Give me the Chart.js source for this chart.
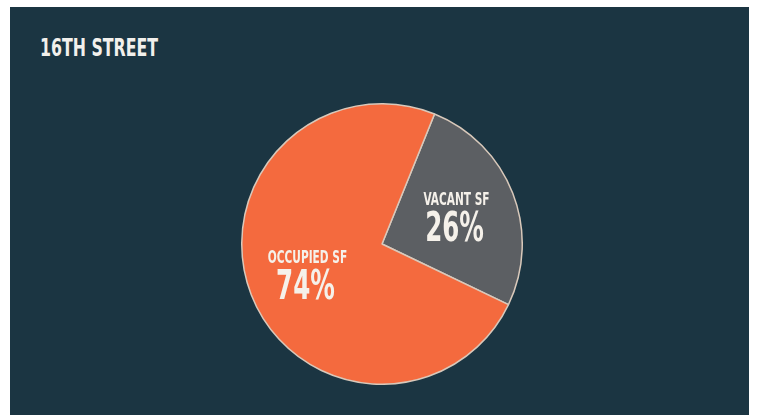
<!DOCTYPE html>
<html>
<head>
<meta charset="utf-8">
<script src="https://cdn.jsdelivr.net/npm/chart.js@4.4.1/dist/chart.umd.min.js"></script>
<style>
  html, body { margin: 0; padding: 0; background: #ffffff; }
  body { width: 757px; height: 419px; position: relative; overflow: hidden; }
  #panel {
    position: absolute; left: 10px; top: 7px; width: 739px; height: 408px;
    background: #1b3542;
  }
  #title {
    position: absolute; left: 40px; top: 34px;
    font-family: "Liberation Sans Narrow", "DejaVu Sans Condensed", sans-serif;
    font-weight: bold; font-size: 21px; color: #f2f0ec;
    transform: scale(0.835, 1.18); transform-origin: left top; white-space: nowrap;
  }
  #pieBox { position: absolute; left: 241px; top: 103px; width: 282px; height: 282px; }
</style>
</head>
<body>
<div id="panel"></div>
<div id="title">16TH STREET</div>
<div id="pieBox"><canvas id="pie"></canvas></div>
<script>
// Space breakdown for the 16th Street property
const categories = ["VACANT SF", "OCCUPIED SF"];
const shares = [26, 74];
const sliceColors = ["#5c5f63", "#f46a3e"];

const LABEL_FONT = '"Liberation Sans Narrow", "DejaVu Sans Condensed", sans-serif';

// Writes the category name and its percentage inside each slice,
// squeezed horizontally for a condensed look
const sliceLabels = {
  id: "sliceLabels",
  afterDatasetsDraw(chart) {
    const ctx = chart.ctx;
    const meta = chart.getDatasetMeta(0);
    meta.data.forEach((arc, i) => {
      const p = arc.getProps(["x", "y", "startAngle", "endAngle", "outerRadius"], true);
      const mid = (p.startAngle + p.endAngle) / 2;
      const r = p.outerRadius * 0.57;
      const cx = p.x + Math.cos(mid) * r;
      const cy = p.y + Math.sin(mid) * r;
      ctx.save();
      ctx.fillStyle = "#f5f1ea";
      ctx.textAlign = "center";
      ctx.textBaseline = "alphabetic";
      ctx.save();
      ctx.translate(cx, cy - 10);
      ctx.scale(0.84, 1.3);
      ctx.font = "bold 14px " + LABEL_FONT;
      ctx.fillText(categories[i], 0, 0);
      ctx.restore();
      ctx.save();
      ctx.translate(cx - 2, cy + 26);
      ctx.scale(0.78, 1.15);
      ctx.font = "bold 35px " + LABEL_FONT;
      ctx.fillText(shares[i] + "%", 0, 0);
      ctx.restore();
      ctx.restore();
    });
  }
};

new Chart(document.getElementById("pie"), {
  type: "pie",
  data: {
    labels: categories,
    datasets: [{
      data: shares,
      backgroundColor: sliceColors,
      borderColor: "#d9c9bb",
      borderWidth: 1.5
    }]
  },
  options: {
    responsive: true,
    maintainAspectRatio: false,
    animation: false,
    rotation: 22,
    layout: { padding: 0 },
    plugins: {
      legend: { display: false },
      tooltip: { enabled: false },
      title: { display: false }
    }
  },
  plugins: [sliceLabels]
});
</script>
</body>
</html>
